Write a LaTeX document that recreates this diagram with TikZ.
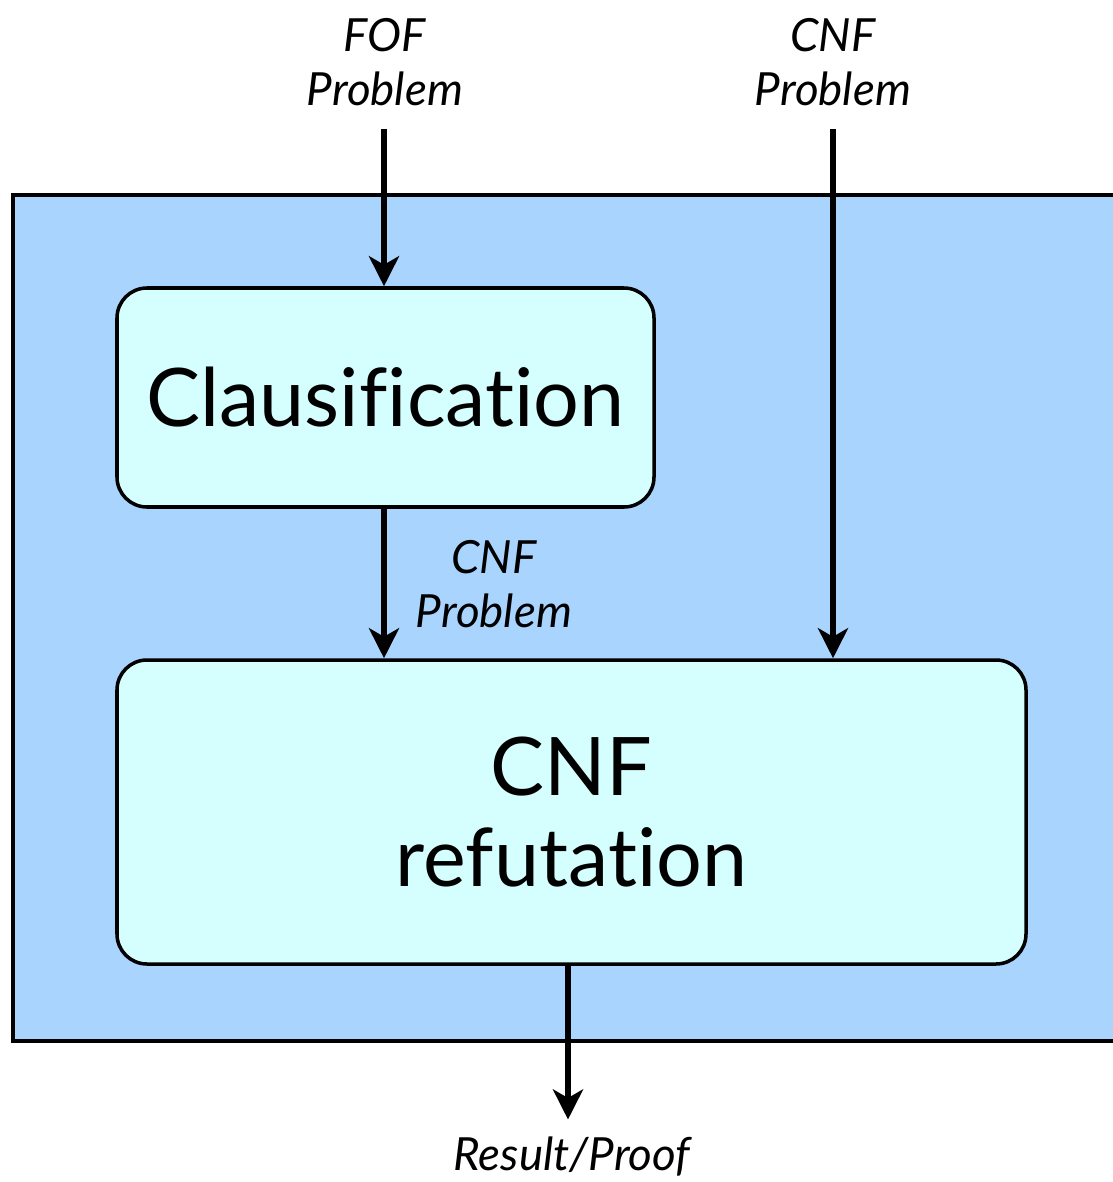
\documentclass[tikz,border=0pt]{standalone}
\usepackage{fontspec}
\setmainfont{Lato}[Ligatures=NoCommon]
\usetikzlibrary{arrows.meta}

\definecolor{outerblue}{RGB}{168,212,254}
\definecolor{boxcyan}{RGB}{213,255,255}

\tikzset{
  stagebox/.style={draw=black, line width=2pt, fill=boxcyan, rounded corners=0.6cm,
    align=center, font=\fontsize{46}{52}\selectfont},
  flowlabel/.style={align=center, inner sep=0pt, font=\fontsize{26}{31}\selectfont\itshape},
  flowarrow/.style={line width=3.3pt, -{Stealth[length=0.6cm, width=0.6cm, inset=0.17cm]}}
}

\begin{document}
\begin{tikzpicture}
      \useasboundingbox (0,0) rectangle (22.26,-23.64);
      % outer component
      \draw [line width=2pt, fill=outerblue] (0.26,-3.9) rectangle (23,-20.82);
      % stages
      \node [stagebox, minimum width=10.74cm, minimum height=4.38cm] (clausif) at (7.71,-7.95) {Clausification};
      \node [stagebox, minimum width=18.18cm, minimum height=6.08cm] (refute) at (11.43,-16.24) {CNF\\refutation};
      % inputs and outputs
      \node [flowlabel] (fofin) at (7.7,-1.24) {FOF\\Problem};
      \node [flowlabel] (cnfin) at (16.66,-1.24) {CNF\\Problem};
      \node [flowlabel] (cnfmid) at (9.88,-11.68) {CNF\\Problem};
      \node [flowlabel] (result) at (11.44,-23.14) {Result/Proof};
      % connectors
      \draw [flowarrow] (fofin.south -| 7.68,0) ++(0,-0.45) -- (clausif.north -| 7.68,0);
      \draw [flowarrow] (cnfin.south) ++(0,-0.45) -- (refute.north -| cnfin.south);
      \draw [flowarrow] (clausif.south -| 7.68,0) -- (refute.north -| 7.68,0);
      \draw [flowarrow] (refute.south -| 11.36,0) -- ([yshift=0.35cm]result.north -| 11.36,0);
\end{tikzpicture}
\end{document}
